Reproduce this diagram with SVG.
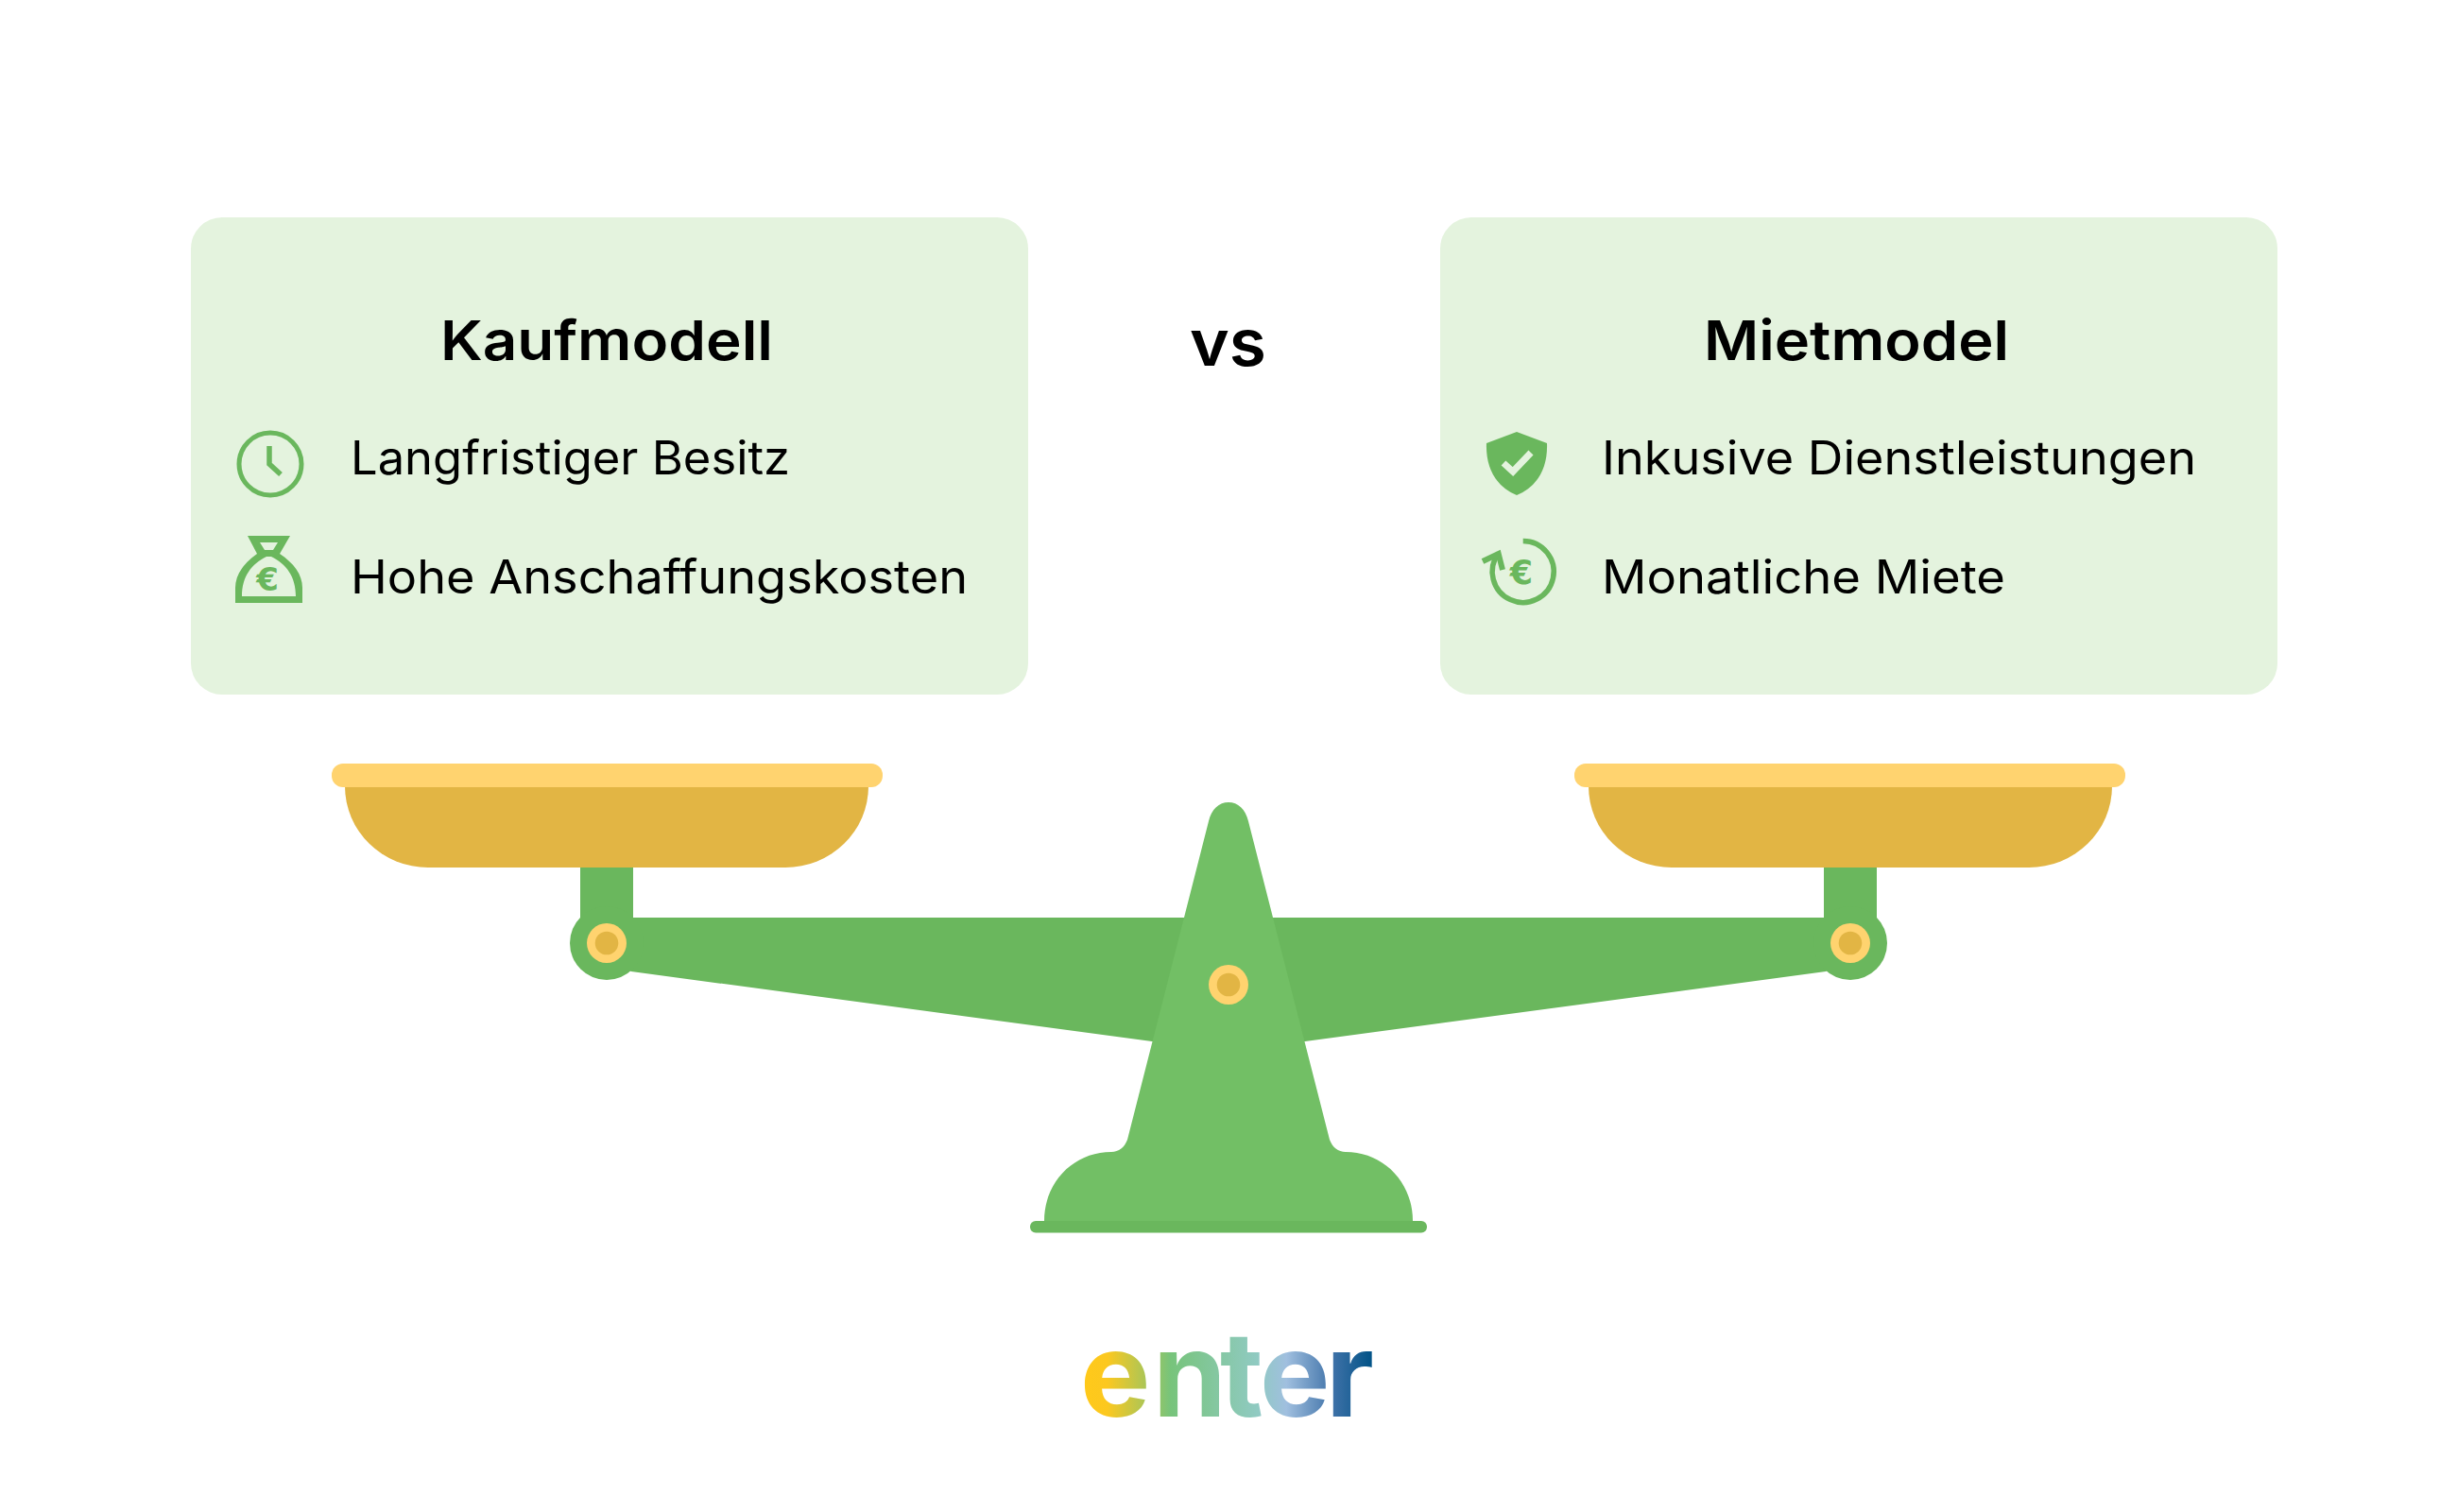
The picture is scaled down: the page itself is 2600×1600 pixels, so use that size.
<svg xmlns="http://www.w3.org/2000/svg" width="2600" height="1600" viewBox="0 0 2600 1600">
<style>
.card{fill:#e4f3de}
.t{font-family:"Inter","Liberation Sans",sans-serif;fill:#000}
.h{font-size:58px;font-weight:600}
.b{font-size:49px;font-weight:400}
.ic{fill:none;stroke:#6ab75d}
.g{fill:#6ab75d}
.eur{font-family:"DejaVu Sans",sans-serif;font-weight:700;fill:#6ab75d;text-anchor:middle}
.beam{fill:#6ab75d}.stand{fill:#72bf65}.gold{fill:#e2b544}.rim{fill:#ffd36f}
</style>
<defs>
<linearGradient id="lg" gradientUnits="userSpaceOnUse" x1="1147" y1="0" x2="1453" y2="0">
<stop offset="0" stop-color="#ffc91a"/><stop offset="0.08" stop-color="#fcc81f"/><stop offset="0.3" stop-color="#77c47b"/><stop offset="0.6" stop-color="#90cac2"/><stop offset="0.7" stop-color="#a0bfdf"/><stop offset="0.86" stop-color="#3f72a8"/><stop offset="1" stop-color="#005286"/>
</linearGradient>
</defs>
<rect width="2600" height="1600" fill="#fff"/>
<g id="card-left">
<rect class="card" x="202" y="230" width="886" height="505" rx="33"/>
<text class="t h" x="466" y="381" textLength="352" lengthAdjust="spacingAndGlyphs">Kaufmodell</text>
<text class="t b" x="371" y="502" textLength="465" lengthAdjust="spacingAndGlyphs">Langfristiger Besitz</text>
<text class="t b" x="371" y="628" textLength="653" lengthAdjust="spacingAndGlyphs">Hohe Anschaffungskosten</text>
<g id="icon-clock"><circle class="ic" cx="286" cy="491" r="33" stroke-width="5"/><path class="ic" d="M285 472V491L297 502" stroke-width="5.500"/></g>
<g id="icon-bag"><path class="g" fill-rule="evenodd" d="M262 567H307L296 586C311 596 320 608 320 622V638H249V622C249 608 258 596 272 586ZM275 574L280 582H289L294 574ZM282 589C266 597 256 610 256 631H313C313 610 303 597 287 589Z"/><text class="eur" x="283" y="625" font-size="34">€</text></g>
</g>
<g id="vs"><text class="t" x="1259" y="387" font-size="68" font-weight="600" textLength="81" lengthAdjust="spacingAndGlyphs">vs</text></g>
<g id="card-right">
<rect class="card" x="1524" y="230" width="886" height="505" rx="33"/>
<text class="t h" x="1803" y="381" textLength="323" lengthAdjust="spacingAndGlyphs">Mietmodel</text>
<text class="t b" x="1695" y="502" textLength="629" lengthAdjust="spacingAndGlyphs">Inkusive Dienstleistungen</text>
<text class="t b" x="1695" y="628" textLength="427" lengthAdjust="spacingAndGlyphs">Monatliche Miete</text>
<g id="icon-shield"><path class="g" d="M1605 457L1637 469C1638 495 1627 515 1605 524C1583 515 1572 495 1573 469Z"/><path d="M1591 490L1601 499L1620 479" fill="none" stroke="#e4f3de" stroke-width="7"/></g>
<g id="icon-cycle"><path class="ic" d="M1611.700 572.500A32.500 32.500 0 1 1 1585.700 585.500" stroke-width="5.500"/><path class="ic" d="M1569 594L1585.700 586L1590 603" stroke-width="6"/><text class="eur" x="1610" y="618" font-size="35">€</text></g>
</g>
<g id="scale">
<path id="beam" class="beam" d="M614 918H670V971H1930V918H1986V1000L1932 1028L1381 1102H1219L668 1028L614 1000Z"/>
<circle class="beam" cx="642" cy="998" r="39"/><circle class="beam" cx="1958" cy="998" r="39"/>
<path id="stand" class="stand" d="M1279 869C1282 856 1290 849 1300 849C1310 849 1318 856 1321 869L1407 1206C1410 1214 1416 1219 1424 1219C1463 1219 1495 1250 1495 1292H1105C1105 1250 1137 1219 1176 1219C1184 1219 1190 1214 1193 1206Z"/>
<rect class="beam" x="1090" y="1292" width="420" height="12.500" rx="6"/>
<g id="pan-left"><path class="gold" d="M365 832H919A88 86 0 0 1 831 918H453A88 86 0 0 1 365 832Z"/><rect class="rim" x="351" y="808" width="583" height="25" rx="12"/></g>
<g id="pan-right"><path class="gold" d="M1681 832H2235A88 86 0 0 1 2147 918H1769A88 86 0 0 1 1681 832Z"/><rect class="rim" x="1666" y="808" width="583" height="25" rx="12"/></g>
<g id="pivot-l"><circle class="rim" cx="642" cy="998" r="21"/><circle class="gold" cx="642" cy="998" r="12.300"/></g>
<g id="pivot-c"><circle class="rim" cx="1300" cy="1042" r="21"/><circle class="gold" cx="1300" cy="1042" r="12.300"/></g>
<g id="pivot-r"><circle class="rim" cx="1958" cy="998" r="21"/><circle class="gold" cx="1958" cy="998" r="12.300"/></g>
</g>
<g id="logo"><text font-family="Inter,'Liberation Sans',sans-serif" font-weight="700" font-size="125" fill="url(#lg)" y="1499" x="1143 1220 1291 1333 1403">enter</text></g>
</svg>
